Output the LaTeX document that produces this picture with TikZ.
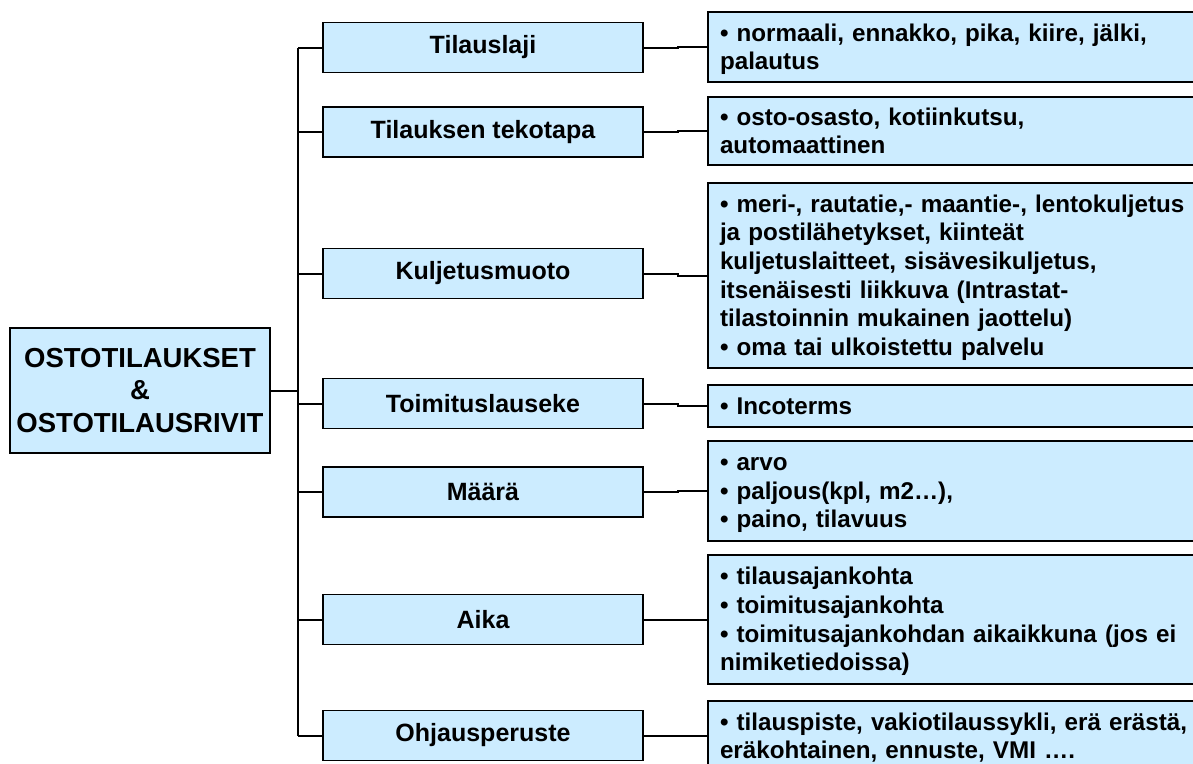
\documentclass[tikz,border=0pt]{standalone}
\usepackage{fontspec}
\setmainfont{Liberation Sans}
\definecolor{boxfill}{RGB}{204,236,255}
% line strut: full ascent and descent of a 24pt line
\newcommand\linestrut{\rule[-5.1pt]{0pt}{26.8pt}}
\begin{document}
\begin{tikzpicture}[x=1pt,y=-1pt,
  box/.style={draw=black,line width=1.6pt,fill=boxfill,inner sep=0pt,outer sep=0pt},
  rootbox/.style={box,minimum width=260,minimum height=125,align=center,
    font=\fontsize{27.5}{32.5}\selectfont\bfseries},
  midbox/.style={box,minimum width=320,minimum height=50,
    font=\fontsize{25}{29}\selectfont\bfseries},
  infobox/.style={box,anchor=west,minimum width=492,inner xsep=11pt,text width=468pt,align=left,
    font=\fontsize{24.2}{28.6}\selectfont\bfseries,
    execute at begin node=\linestrut, execute at end node=\linestrut},
  link/.style={draw=black,line width=2pt}]
\useasboundingbox (0,0) rectangle (1193,763);

% root
\node[rootbox] (root) at (140,390.5) {OSTOTILAUKSET\\\&\\OSTOTILAUSRIVIT};

% categories
\node[midbox] (m1) at (483,47.5)  {Tilauslaji};
\node[midbox] (m2) at (483,132)   {Tilauksen tekotapa};
\node[midbox] (m3) at (483,273.5) {Kuljetusmuoto};
\node[midbox] (m4) at (483,403.5) {Toimituslauseke};
\node[midbox] (m5) at (483,492)   {Määrä};
\node[midbox] (m6) at (483,619.5) {Aika};
\node[midbox] (m7) at (483,735.5) {Ohjausperuste};

% details
\node[infobox,minimum height=70] (r1) at (708,47) {• normaali, ennakko, pika, kiire, jälki,\\palautus};
\node[infobox,minimum height=68] (r2) at (708,131) {• osto-osasto, kotiinkutsu,\\automaattinen};
\node[infobox,minimum height=185] (r3) at (708,275.5) {• meri-, rautatie,- maantie-, lentokuljetus\\ja postilähetykset, kiinteät\\kuljetuslaitteet, sisävesikuljetus,\\itsenäisesti liikkuva (Intrastat-\\tilastoinnin mukainen jaottelu)\\• oma tai ulkoistettu palvelu};
\node[infobox,minimum height=42] (r4) at (708,406) {• Incoterms};
\node[infobox,minimum height=100] (r5) at (708,491) {• arvo\\• paljous(kpl, m2…),\\• paino, tilavuus};
\node[infobox,minimum height=129] (r6) at (708,619.5) {• tilausajankohta\\• toimitusajankohta\\• toimitusajankohdan aikaikkuna (jos ei\\nimiketiedoissa)};
\node[infobox,minimum height=70] (r7) at (708,736) {• tilauspiste, vakiotilaussykli, erä erästä,\\eräkohtainen, ennuste, VMI ….};

% trunk
\coordinate (tx) at (298,0);
\draw[link] (m1.west -| tx) -- (m7.west -| tx);
\draw[link] (root.east) -- (root.east -| tx);
\foreach \i in {1,...,7}{
  \draw[link] (m\i.west -| tx) -- (m\i.west);
  \draw[link] (m\i.east) -- ++(35,0) |- (r\i.west);
}
\end{tikzpicture}
\end{document}
